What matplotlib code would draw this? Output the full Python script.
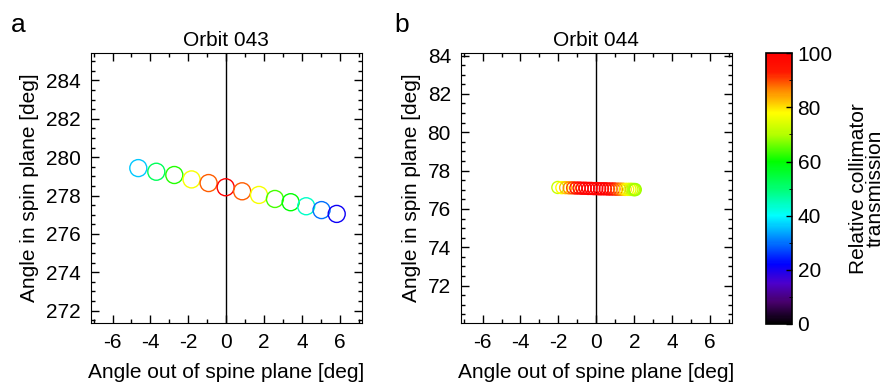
import matplotlib
matplotlib.use("Agg")
import matplotlib.pyplot as plt
import numpy as np
from matplotlib.colors import LinearSegmentedColormap, Normalize
from matplotlib.ticker import MultipleLocator

plt.rcParams['font.family'] = ['Liberation Sans', 'DejaVu Sans']
plt.rcParams['font.size'] = 15
plt.rcParams['axes.unicode_minus'] = False

# orbit 043
x043 = [-4.64, -3.69, -2.74, -1.83, -0.93, -0.03, 0.84, 1.73, 2.57, 3.40, 4.22, 5.03, 5.83]
y043 = [279.43, 279.24, 279.07, 278.84, 278.65, 278.43, 278.22, 278.03, 277.82, 277.65, 277.44, 277.24, 277.04]
t043 = [36, 52, 62, 77, 89, 100, 89, 77, 64, 60, 44, 30, 21]

# orbit 044
x044 = [-2.03, -1.82, -1.62, -1.43, -1.25, -1.08, -0.91, -0.75, -0.59, -0.43, -0.28, -0.13,
        0.02, 0.17, 0.32, 0.47, 0.62, 0.77, 0.92, 1.07, 1.22, 1.37, 1.52, 1.65, 1.77, 1.87,
        1.95, 2.01, 2.05]
y044 = [77.12, 77.11, 77.11, 77.10, 77.10, 77.09, 77.09, 77.08, 77.08, 77.07, 77.07, 77.06,
        77.06, 77.05, 77.05, 77.05, 77.04, 77.04, 77.04, 77.03, 77.03, 77.03, 77.02, 77.02,
        77.02, 77.02, 77.01, 77.01, 77.01]
t044 = [72, 78, 82, 86, 90, 94, 97, 99, 100, 100, 100, 100,
        100, 100, 100, 100, 99, 97, 94, 91, 88, 84, 80, 77, 75, 73, 71, 70, 69]

cb_ticks = [0, 20, 40, 60, 80, 100]

cmap = LinearSegmentedColormap.from_list("idl_rainbow", [
    (0.0, (0, 0, 0)),
    (0.08, (0.28, 0, 0.42)),
    (0.15, (0.3, 0, 0.8)),
    (0.22, (0, 0, 1)),
    (0.3, (0, 0.45, 1)),
    (0.4, (0, 1, 1)),
    (0.5, (0, 1, 0.45)),
    (0.6, (0, 1, 0)),
    (0.7, (0.7, 1, 0)),
    (0.78, (1, 1, 0)),
    (0.87, (1, 0.5, 0)),
    (0.93, (1, 0.1, 0)),
    (1.0, (1, 0, 0)),
])
norm = Normalize(0, 100)

fig = plt.figure(figsize=(8.87, 3.86), dpi=100)
ax1 = fig.add_axes([0.1023, 0.1632, 0.3055, 0.7003])
ax2 = fig.add_axes([0.5194, 0.1632, 0.3059, 0.7003])
cax = fig.add_axes([0.8636, 0.161, 0.0293, 0.701])


def style(ax, yc):
    ax.axvline(0, color='black', lw=1, zorder=1)
    ax.set_xlim(-7.15, 7.15)
    ax.set_ylim(yc - 7.05, yc + 7.05)
    ax.xaxis.set_major_locator(MultipleLocator(2))
    ax.xaxis.set_minor_locator(MultipleLocator(1))
    ax.yaxis.set_major_locator(MultipleLocator(2))
    ax.yaxis.set_minor_locator(MultipleLocator(0.5))
    ax.tick_params(which='both', direction='in', top=True, right=True, width=1)
    ax.tick_params(which='major', length=6, pad=7)
    ax.tick_params(which='minor', length=3)
    ax.set_xlabel("Angle out of spine plane [deg]", labelpad=8)
    ax.set_ylabel("Angle in spin plane [deg]", labelpad=5)


ax1.scatter(x043, y043, s=150, facecolors='none', edgecolors=cmap(norm(t043)), linewidths=1, zorder=2)
style(ax1, 278.4)
ax1.set_title("Orbit 043", fontsize=15, pad=5)

ax2.scatter(x044, y044, s=75, facecolors='none', edgecolors=cmap(norm(t044)), linewidths=1, zorder=2)
style(ax2, 77.1)
ax2.set_title("Orbit 044", fontsize=15, pad=5)

fig.text(0.012, 0.935, "a", fontsize=19, va='center')
fig.text(0.445, 0.935, "b", fontsize=19, va='center')

sm = plt.cm.ScalarMappable(norm=norm, cmap=cmap)
cb = fig.colorbar(sm, cax=cax, ticks=cb_ticks)
cb.outline.set_edgecolor('black')
cb.outline.set_linewidth(1.2)
cb.ax.tick_params(direction='in', length=4, width=1, pad=4)
cb.ax.yaxis.set_minor_locator(MultipleLocator(10))
cb.ax.tick_params(which='minor', direction='in', length=2)
cb.set_label("Relative collimator\ntransmission", labelpad=12, linespacing=0.85)

fig.savefig("out.png", dpi=100)
